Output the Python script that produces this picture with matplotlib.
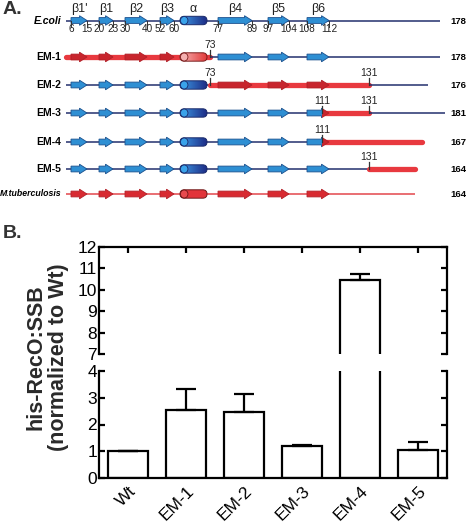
import numpy as np
import matplotlib
matplotlib.use('Agg')
import matplotlib.pyplot as plt
from matplotlib.patches import Polygon, Rectangle, FancyBboxPatch, Ellipse
from matplotlib.colors import LinearSegmentedColormap

# ---------------- data ----------------
# panel A: secondary structure of E. coli RecO and the chimeras
strand_names = ["β1'", 'β1', 'β2', 'β3', 'β4', 'β5', 'β6']
strand_start = [6, 20, 30, 52, 77, 97, 108]
strand_end = [15, 23, 40, 60, 89, 104, 112]
helix_name = 'α'
helix_range = (63, 72)
ecoli_numbers = [6, 15, 20, 23, 30, 40, 52, 60, 77, 89, 97, 104, 108, 112]

constructs = ['E.coli', 'EM-1', 'EM-2', 'EM-3', 'EM-4', 'EM-5', 'M.tuberculosis']
lengths = [178, 178, 176, 181, 167, 164, 164]
# segments (start, end, origin)  ec = E. coli, mt = M. tuberculosis
segments = [
    [(1, 178, 'ec')],
    [(1, 73, 'mt'), (73, 178, 'ec')],
    [(1, 73, 'ec'), (73, 131, 'mt'), (131, 176, 'ec')],
    [(1, 111, 'ec'), (111, 131, 'mt'), (131, 181, 'ec')],
    [(1, 111, 'ec'), (111, 167, 'mt')],
    [(1, 131, 'ec'), (131, 164, 'mt')],
    [(1, 164, 'mtb')],
]
junctions = [[], [73], [73, 131], [111, 131], [111], [131], []]

# panel B: his-RecO:SSB ratio
strains = ['Wt', 'EM-1', 'EM-2', 'EM-3', 'EM-4', 'EM-5']
ratio = [1.0, 2.55, 2.45, 1.2, 10.48, 1.05]
ratio_err = [0.0, 0.77, 0.68, 0.02, 0.26, 0.3]

# schematic is not drawn to scale: residue -> horizontal position
res_marks = [1, 6, 15, 20, 23, 30, 40, 52, 60, 63, 72, 73, 77, 89, 97, 104,
             108, 111, 112, 131, 164, 167, 176, 178, 181]
x_marks = [66, 71, 87, 99, 113, 125, 147, 160, 174, 180, 207, 210, 218, 252,
           268, 289, 307, 322, 329, 369, 415, 422, 428, 440, 445]
row_y = [20.5, 57, 85, 113, 142, 169, 194]


def rx(r):
    return float(np.interp(r, res_marks, x_marks))


NAVY = '#23306e'
BLUE = '#2e8fd3'
BLUE_EDGE = '#1b4f8c'
RED = '#e8393f'
DARKRED = '#c8252d'

styles = {
    'ec': dict(line=NAVY, lw=1.1, arrow=BLUE, aedge=BLUE_EDGE,
               helix=('#3d9be6', '#1d2c86'), hedge='#1a2a6a', circ='#3aa3ea'),
    'mt': dict(line=RED, lw=3.8, arrow=DARKRED, aedge='#b02028',
               helix=('#f6b6b6', '#e23a3a'), hedge='#7a1c1c', circ='#f4b0b0'),
    'mtb': dict(line='#e3474c', lw=1.1, arrow='#d82a31', aedge='#b3222a',
                helix=('#e2343a', '#e2343a'), hedge='#6e1818', circ='#e84a4e'),
}

fig = plt.figure(figsize=(4.68, 5.23), dpi=100)

# ---------------- panel A ----------------
axa = fig.add_axes([0, 1 - 212 / 523, 1, 212 / 523])
narrow = ['Liberation Sans Narrow', 'Liberation Sans', 'DejaVu Sans']


def strand_poly(x0, x1, y, hs=2.9, hh=4.8, head=7.5):
    xh = max(x1 - head, x0)
    return [(x0, y - hs), (xh, y - hs), (xh, y - hh), (x1, y),
            (xh, y + hh), (xh, y + hs), (x0, y + hs)]


for i, name in enumerate(constructs):
    y = row_y[i]
    for (s, e, org) in segments[i]:
        st = styles[org]
        xs, xe = rx(s), rx(e)
        cap = 'round' if org == 'mt' else 'butt'
        axa.plot([xs, xe], [y, y], color=st['line'], lw=st['lw'],
                 solid_capstyle=cap, zorder=1)
        clip = Rectangle((xs, 0), xe - xs, 212, transform=axa.transData)
        for s0, s1 in zip(strand_start, strand_end):
            if s1 < s or s0 > e:
                continue
            p = Polygon(strand_poly(rx(s0), rx(s1), y), closed=True,
                        facecolor=st['arrow'], edgecolor=st['aedge'],
                        lw=0.6, zorder=3)
            axa.add_patch(p)
            p.set_clip_path(clip)
        h0, h1 = helix_range
        if h0 < e and h1 > s:
            x0, x1 = rx(h0), rx(h1)
            box = FancyBboxPatch((x0, y - 4.2), x1 - x0, 8.4,
                                 boxstyle='round,pad=0,rounding_size=4.2',
                                 facecolor='none', edgecolor=st['hedge'],
                                 lw=0.7, zorder=5)
            axa.add_patch(box)
            cmap = LinearSegmentedColormap.from_list('h', st['helix'])
            im = axa.imshow(np.linspace(0, 1, 64).reshape(1, -1), cmap=cmap,
                            extent=[x0, x1, y + 4.2, y - 4.2], aspect='auto',
                            zorder=4)
            im.set_clip_path(box)
            axa.add_patch(Ellipse((x0 + 4.2, y), 7.5, 8, facecolor=st['circ'],
                                  edgecolor=st['hedge'], lw=0.6, zorder=6))
    # junction marks
    for j in junctions[i]:
        xj = rx(j)
        axa.plot([xj, xj], [y, y - 7.5], color='#333333', lw=0.9, zorder=7)
        axa.text(xj, y - 7, str(j), ha='center', va='bottom', fontsize=7.5,
                 family=narrow, color='#222222')
    long_name = len(name) > 8
    axa.text(61, y, name, ha='right', va='center',
             fontsize=6.3 if long_name else 7.5,
             fontweight='bold', family=narrow,
             style='italic' if '.' in name else 'normal')
    axa.text(450, y + 0.5, str(lengths[i]), ha='left', va='center',
             fontsize=6.8, fontweight='bold', family=narrow)

# labels of E. coli secondary structure
y0 = row_y[0]
for nm, s0, s1 in zip(strand_names, strand_start, strand_end):
    axa.text((rx(s0) + rx(s1)) / 2, y0 - 5.5, nm, ha='center', va='bottom',
             fontsize=9, family=narrow, color='#222222')
axa.text((rx(helix_range[0]) + rx(helix_range[1])) / 2, y0 - 5.5, helix_name,
         ha='center', va='bottom', fontsize=9, family=narrow, color='#222222')
for n in ecoli_numbers:
    xn = rx(n)
    axa.plot([xn, xn], [y0, y0 + 6], color='#333333', lw=0.7, zorder=7)
    axa.text(xn, y0 + 4, str(n), ha='center', va='top', fontsize=7.2,
             family=narrow, color='#222222')

axa.set_xlim(0, 468)
axa.set_ylim(212, 0)
axa.axis('off')

# ---------------- panel B (broken axis) ----------------
L, R = 99 / 468, 447 / 468
ax_top = fig.add_axes([L, 1 - 354 / 523, R - L, 107 / 523])
ax_bot = fig.add_axes([L, 1 - 478 / 523, R - L, 107 / 523])
xpos = np.arange(len(strains))

for ax in (ax_top, ax_bot):
    ax.bar(xpos, ratio, width=0.69, color='white', edgecolor='black',
           lw=1.6, zorder=2)
    ax.errorbar(xpos, ratio, yerr=[np.zeros(len(ratio)), ratio_err],
                fmt='none', ecolor='black', elinewidth=1.6, capsize=7,
                capthick=1.6, zorder=3)
    ax.set_xlim(-0.5, 5.5)
    for sp in ax.spines.values():
        sp.set_linewidth(1.6)
    ax.tick_params(axis='both', which='both', direction='in', width=1.6,
                   length=4, labelsize=12.5, pad=1.5, left=True, right=True)
    ax.tick_params(axis='y', which='minor', direction='inout', length=9)
    ax.set_xticks(xpos)

ax_top.set_ylim(7, 12)
ax_top.set_yticks(range(7, 13))
ax_top.set_yticks([7], minor=True)
ax_top.spines['bottom'].set_visible(False)
ax_top.tick_params(axis='x', bottom=False, top=True, labelbottom=False)

ax_bot.set_ylim(0, 4)
ax_bot.set_yticks(range(0, 5))
ax_bot.set_yticks([4], minor=True)
ax_bot.spines['top'].set_visible(False)
ax_bot.tick_params(axis='x', bottom=True, top=False, pad=4)
ax_bot.set_xticklabels(strains, rotation=45, ha='right', va='top',
                       rotation_mode='anchor')

for ax in (ax_top, ax_bot):
    for lab in ax.get_xticklabels() + ax.get_yticklabels():
        lab.set_family('Liberation Sans')

fig.text(47 / 468, 1 - 357 / 523, 'his-RecO:SSB\n(normalized to Wt)',
         rotation=90, ha='center', va='center', fontsize=15.5,
         fontweight='bold', family='Liberation Sans', color='#2a2a2a',
         linespacing=1.1, multialignment='center')

fig.text(3 / 468, 1 - 10 / 523, 'A.', fontsize=14, fontweight='bold',
         family='Liberation Sans', va='center', color='#333333')
fig.text(3 / 468, 1 - 233 / 523, 'B.', fontsize=14, fontweight='bold',
         family='Liberation Sans', va='center', color='#333333')

fig.savefig('out.png', dpi=100)
